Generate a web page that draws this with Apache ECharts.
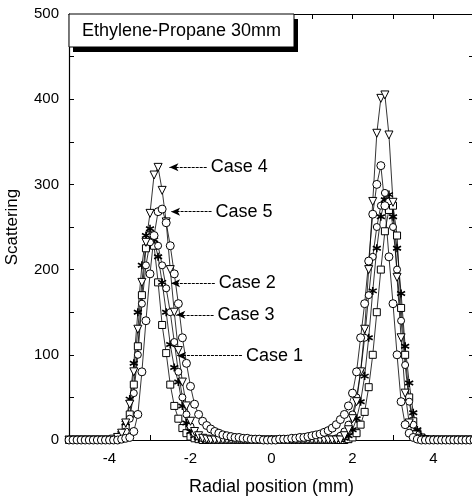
<!DOCTYPE html>
<html>
<head>
<meta charset="utf-8">
<script src="https://cdn.jsdelivr.net/npm/echarts@6/dist/echarts.min.js"></script>
<style>
  html, body { margin: 0; padding: 0; background: #fff; }
  #main { width: 472px; height: 496px; }
</style>
</head>
<body>
<div id="main"></div>
<script>
// radial positions (mm)
const radial = [
  -5.0, -4.9, -4.8, -4.7, -4.6, -4.5, -4.4, -4.3, -4.2, -4.1,
  -4.0, -3.9, -3.8, -3.7, -3.6, -3.5, -3.4, -3.3, -3.2, -3.1,
  -3.0, -2.9, -2.8, -2.7, -2.6, -2.5, -2.4, -2.3, -2.2, -2.1,
  -2.0, -1.9, -1.8, -1.7, -1.6, -1.5, -1.4, -1.3, -1.2, -1.1,
  -1.0, -0.9, -0.8, -0.7, -0.6, -0.5, -0.4, -0.3, -0.2, -0.1,
  0.0, 0.1, 0.2, 0.3, 0.4, 0.5, 0.6, 0.7, 0.8, 0.9,
  1.0, 1.1, 1.2, 1.3, 1.4, 1.5, 1.6, 1.7, 1.8, 1.9,
  2.0, 2.1, 2.2, 2.3, 2.4, 2.5, 2.6, 2.7, 2.8, 2.9,
  3.0, 3.1, 3.2, 3.3, 3.4, 3.5, 3.6, 3.7, 3.8, 3.9,
  4.0, 4.1, 4.2, 4.3, 4.4, 4.5, 4.6, 4.7, 4.8, 4.9,
  5.0
];

const case1 = [
  0, 0, 0, 0, 0, 0, 0, 0, 0, 0,
  0, 0, 2, 6, 15, 30, 65, 110, 170, 225,
  240, 228, 185, 135, 102, 65, 40, 25, 14, 8,
  4, 2, 1, 0, 0, 0, 0, 0, 0, 0,
  0, 0, 0, 0, 0, 0, 0, 0, 0, 0,
  0, 0, 0, 0, 0, 0, 0, 0, 0, 0,
  0, 0, 0, 0, 0, 0, 0, 0, 0, 1,
  3, 8, 18, 33, 62, 100, 150, 200, 245, 270,
  275, 240, 155, 100, 50, 22, 8, 3, 1, 0,
  0, 0, 0, 0, 0, 0, 0, 0, 0, 0,
  0
];

const case2 = [
  0, 0, 0, 0, 0, 0, 0, 0, 0, 0,
  0, 1, 3, 8, 20, 48, 90, 150, 205, 240,
  248, 235, 215, 185, 150, 112, 85, 68, 40, 20,
  10, 5, 2, 1, 0, 0, 0, 0, 0, 0,
  0, 0, 0, 0, 0, 0, 0, 0, 0, 0,
  0, 0, 0, 0, 0, 0, 0, 0, 0, 0,
  0, 0, 0, 0, 0, 0, 0, 0, 2, 5,
  12, 25, 45, 75, 120, 175, 225, 262, 282, 288,
  262, 225, 172, 110, 67, 32, 12, 4, 1, 0,
  0, 0, 0, 0, 0, 0, 0, 0, 0, 0,
  0
];

const case3 = [
  0, 0, 0, 0, 0, 0, 0, 0, 0, 0,
  0, 0, 1, 4, 10, 25, 55, 100, 160, 205,
  232, 240, 228, 205, 178, 150, 115, 80, 50, 30,
  16, 8, 4, 2, 1, 0, 0, 0, 0, 0,
  0, 0, 0, 0, 0, 0, 0, 0, 0, 0,
  0, 0, 0, 0, 0, 0, 0, 0, 0, 0,
  0, 0, 0, 0, 0, 0, 2, 5, 10, 18,
  30, 50, 80, 120, 170, 215, 250, 275, 290, 280,
  250, 200, 140, 88, 45, 18, 6, 2, 0, 0,
  0, 0, 0, 0, 0, 0, 0, 0, 0, 0,
  0
];

const case4 = [
  0, 0, 0, 0, 0, 0, 0, 0, 0, 0,
  0, 1, 3, 8, 20, 42, 80, 130, 185, 232,
  266, 311, 320, 293, 256, 200, 150, 105, 68, 40,
  22, 10, 5, 2, 1, 0, 0, 0, 0, 0,
  0, 0, 0, 0, 0, 0, 0, 0, 0, 0,
  0, 0, 0, 0, 0, 0, 0, 0, 0, 0,
  0, 0, 0, 0, 0, 0, 0, 0, 5, 12,
  25, 45, 80, 130, 200, 280, 360, 401, 405, 358,
  279, 191, 120, 55, 20, 6, 2, 0, 0, 0,
  0, 0, 0, 0, 0, 0, 0, 0, 0, 0,
  0
];

const case5 = [
  0, 0, 0, 0, 0, 0, 0, 0, 0, 0,
  0, 0, 0, 1, 2, 3, 10, 30, 80, 140,
  195, 240, 268, 271, 255, 228, 195, 160, 120, 90,
  63, 42, 30, 22, 17, 13, 10, 8, 6, 5,
  4, 3, 3, 2, 2, 1, 1, 1, 0, 0,
  0, 0, 1, 1, 1, 2, 2, 3, 3, 4,
  5, 6, 7, 9, 11, 14, 18, 24, 30, 40,
  55, 80, 120, 160, 210, 265, 300, 322, 275, 215,
  160, 100, 45, 18, 8, 3, 1, 0, 0, 0,
  0, 0, 0, 0, 0, 0, 0, 0, 0, 0,
  0
];

// callout labels with arrows
const labelNames = ['Case 4', 'Case 5', 'Case 2', 'Case 3', 'Case 1'];
const labelLevels = [320, 268, 184, 147, 99];
const arrowStartX = [-1.6, -1.48, -1.4, -1.43, -0.73];
const arrowEndX = [-2.52, -2.48, -2.48, -2.35, -2.33];

const FONT = 'Liberation Sans, Arial, sans-serif';
const chart = echarts.init(document.getElementById('main'), null, { renderer: 'canvas' });

function pairs(values) {
  return radial.map(function (x, i) { return [x, values[i]]; });
}

function caseSeries(name, values, symbol, size, extra) {
  return Object.assign({
    name: name,
    type: 'line',
    data: pairs(values),
    symbol: symbol,
    symbolSize: size,
    showAllSymbol: true,
    lineStyle: { color: '#000', width: 0.8 },
    itemStyle: { color: '#fff', borderColor: '#000', borderWidth: 1 },
    emphasis: { disabled: true },
    silent: true
  }, extra || {});
}

const arrows = labelNames.map(function (name, i) {
  return [
    { name: name, coord: [arrowStartX[i], labelLevels[i]] },
    { coord: [arrowEndX[i], labelLevels[i]] }
  ];
});

const axisCommon = {
  axisLine: { onZero: false, lineStyle: { color: '#000', width: 1.2 } },
  axisTick: { inside: true, length: 5, lineStyle: { color: '#000' } },
  splitLine: { show: false }
};

const option = {
  backgroundColor: '#fff',
  animation: false,
  grid: { left: 69, right: -2, top: 14, bottom: 56, containLabel: false, outerBoundsMode: 'none' },
  xAxis: [
    Object.assign({
      type: 'value', min: -5, max: 5, interval: 1, position: 'bottom',
      name: 'Radial position (mm)', nameLocation: 'middle', nameGap: 38,
      nameTextStyle: { fontFamily: FONT, fontSize: 18, color: '#000' },
      axisLabel: {
        margin: 11, fontFamily: FONT, fontSize: 15, color: '#000',
        formatter: function (v) { return v % 2 === 0 ? String(v) : ''; }
      }
    }, axisCommon),
    Object.assign({
      type: 'value', min: -5, max: 5, interval: 1, position: 'top',
      axisLabel: { show: false }
    }, axisCommon)
  ],
  yAxis: [
    Object.assign({
      type: 'value', min: 0, max: 500, interval: 50, position: 'left',
      name: 'Scattering', nameLocation: 'middle', nameGap: 48,
      nameTextStyle: { fontFamily: FONT, fontSize: 17, color: '#000' },
      axisLabel: {
        margin: 10, fontFamily: FONT, fontSize: 15, color: '#000',
        formatter: function (v) { return v % 100 === 0 ? String(v) : ''; }
      }
    }, axisCommon),
    Object.assign({
      type: 'value', min: 0, max: 500, interval: 50, position: 'right',
      axisLabel: { show: false }
    }, axisCommon)
  ],
  series: [
    caseSeries('Case 1', case1, 'rect', 7),
    caseSeries('Case 2', case2, 'path://M5 0L5 10M0.7 2.5L9.3 7.5M0.7 7.5L9.3 2.5', 8,
      { itemStyle: { color: '#000', borderColor: '#000', borderWidth: 1.6 } }),
    caseSeries('Case 3', case3, 'circle', 7),
    caseSeries('Case 4', case4, 'triangle', 8, { symbolRotate: 180 }),
    caseSeries('Case 5', case5, 'circle', 8),
    {
      name: 'callouts',
      type: 'line',
      data: [],
      silent: true,
      markLine: {
        silent: true,
        symbol: ['none', 'arrow'],
        symbolSize: [6, 9],
        lineStyle: { color: '#000', width: 1, type: [3, 1] },
        label: {
          show: true, position: 'start', distance: 4,
          formatter: '{b}', fontFamily: FONT, fontSize: 18, color: '#000'
        },
        data: arrows
      }
    }
  ],
  graphic: [
    { type: 'rect', shape: { x: 73, y: 19, width: 225, height: 33 }, style: { fill: '#000' }, z: 100 },
    { type: 'rect', shape: { x: 69, y: 14, width: 225, height: 33 }, style: { fill: '#fff', stroke: '#000', lineWidth: 1 }, z: 101 },
    { type: 'text', x: 82, y: 31, style: { text: 'Ethylene-Propane 30mm', fontFamily: FONT, fontSize: 18, fill: '#000', verticalAlign: 'middle' }, z: 102 }
  ]
};

chart.setOption(option);
</script>
</body>
</html>
